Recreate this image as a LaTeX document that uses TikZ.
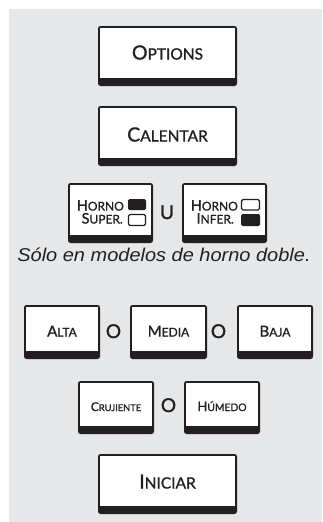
\documentclass[tikz,border=0pt]{standalone}
\usepackage{fontspec}
\setmainfont{Lato}[FakeBold=1.2]
\newfontfamily\notefont{Liberation Sans}
\newfontfamily\connfont{Lato}[FakeBold=1.5]
\definecolor{bggray}{HTML}{E6E7E8}
\definecolor{ink}{HTML}{231F20}
\newcommand\fsc[4]{{\fontsize{#1}{#1}\selectfont #3}{\fontsize{#2}{#2}\selectfont #4}}
\newcommand\btn[5]{%
  \fill[ink, rounded corners=2.5] (#1,#2) rectangle (#3,#4);
  \fill[white] ({#1+2.4},{#2+2.4}) rectangle ({#3-2.4},{#4-8.5});
}
\tikzset{
  lbl/.style={inner sep=0pt, anchor=base, text=ink},
  hlbl/.style={inner sep=0pt, anchor=base east, text=ink},
  conn/.style={inner sep=0pt, anchor=base, text=ink, font=\connfont\fontsize{19}{19}\selectfont},
}
\begin{document}
\begin{tikzpicture}[x=1pt,y=-1pt]
\useasboundingbox (0,0) rectangle (322,522);
\fill[bggray] (9,9) rectangle (322,522);
% OPTIONS
\btn{98}{26}{237}{86}{}
\node[lbl] (options) at (167.5,59.5) {\fsc{19.5}{15.5}{O}{PTIONS}};
% CALENTAR
\btn{98}{106}{237}{166}{}
\node[lbl] (calentar) at (167.5,141.5) {\fsc{19.5}{15.5}{C}{ALENTAR}};
% HORNO SUPER
\btn{68}{183}{153}{243}{}
\node[hlbl] (hs1) at (124,210.5) {\fsc{14.5}{12}{H}{ORNO}};
\node[hlbl] (hs2) at (123,223.5) {\fsc{14.5}{12}{S}{UPER.}};
\fill[ink, rounded corners=1.5] (128,199) rectangle (146,210);
\draw[ink, line width=1.1, rounded corners=1.5] (128.5,214.5) rectangle (145.5,225.5);
\node[conn] (u) at (167,219) {U};
% HORNO INFER
\btn{182}{183}{267}{243}{}
\node[hlbl] (hi1) at (238,210.5) {\fsc{14.5}{12}{H}{ORNO}};
\node[hlbl] (hi2) at (234,223.5) {\fsc{14.5}{12}{I}{NFER.}};
\draw[ink, line width=1.1, rounded corners=1.5] (241.5,199.5) rectangle (259.5,210);
\fill[ink, rounded corners=1.5] (241,214) rectangle (260,226);
% note
\node[lbl, xscale=1.08] (note) at (164,261.5) {\notefont\itshape\fontsize{18.5}{18.5}\selectfont Sólo en modelos de horno doble.};
% ALTA MEDIA BAJA
\btn{24}{305}{100}{359}{}
\node[lbl] (alta) at (62,336.5) {\fsc{15}{12}{A}{LTA}};
\node[conn] (o1) at (113.5,338) {O};
\btn{130}{305}{207}{359}{}
\node[lbl] (media) at (168.5,336.5) {\fsc{15}{12}{M}{EDIA}};
\node[conn] (o2) at (218.5,338) {O};
\btn{237}{305}{313}{359}{}
\node[lbl] (baja) at (275,336.5) {\fsc{15}{12}{B}{AJA}};
% CRUJIENTE HUMEDO
\btn{78}{381}{154}{434}{}
\node[lbl] (cruj) at (116,411) {\fsc{12}{9.3}{C}{RUJIENTE}};
\node[conn] (o3) at (168.5,412) {O};
\btn{184}{381}{260}{434}{}
\node[lbl] (humedo) at (222,411) {\fsc{13}{10.3}{H}{ÚMEDO}};
% INICIAR
\btn{98}{454}{237}{514}{}
\node[lbl] (iniciar) at (167.5,488.5) {\fsc{19.5}{15.5}{I}{NICIAR}};
\end{tikzpicture}
\end{document}
